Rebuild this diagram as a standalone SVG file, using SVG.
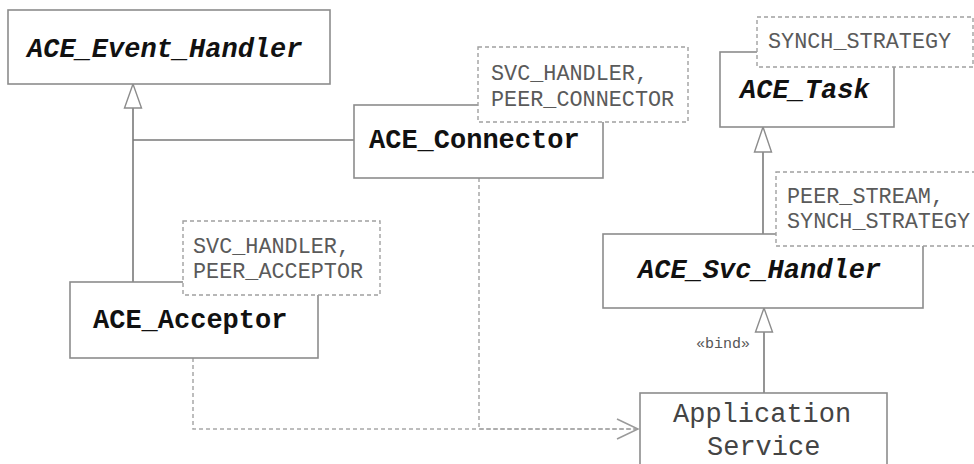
<svg xmlns="http://www.w3.org/2000/svg" width="974" height="464" viewBox="0 0 974 464">
  <style>
    .box { fill: #fff; stroke: #8c8c8c; stroke-width: 1.6; }
    .note { fill: #fff; stroke: #a0a0a0; stroke-width: 1.4; stroke-dasharray: 4 3; }
    .cls { font-family: "Liberation Mono", "Courier New", monospace; font-size: 27px; font-weight: bold; fill: #111; }
    .abs { font-style: italic; }
    .plain { font-family: "Liberation Mono", "Courier New", monospace; font-size: 27px; fill: #444; }
    .ntxt { font-family: "Liberation Mono", "Courier New", monospace; font-size: 21.8px; fill: #5a5a5a; }
    .lbl { font-family: "Liberation Mono", "Courier New", monospace; font-size: 15px; fill: #555; }
    .solid { fill: none; stroke: #7a7a7a; stroke-width: 1.6; }
    .dash { fill: none; stroke: #a8a8a8; stroke-width: 1.5; stroke-dasharray: 4 3; }
    .tri { fill: #fff; stroke: #8c8c8c; stroke-width: 1.4; }
  </style>
  <rect width="974" height="464" fill="#fff"/>

  <!-- connectors -->
  <g id="connectors">
    <!-- generalization: Acceptor / Connector -> Event_Handler -->
    <path class="solid" d="M133 108 V282 M133 140 H354"/>
    <polygon class="tri" points="133,84 124.5,108 141.5,108"/>
    <!-- generalization: Svc_Handler -> Task -->
    <path class="solid" d="M763 152 V234"/>
    <polygon class="tri" points="763,127 754.5,152 771.5,152"/>
    <!-- bind: Application Service -> Svc_Handler -->
    <path class="solid" d="M764 332 V393"/>
    <polygon class="tri" points="764,308 755.5,332 772.5,332"/>
    <text class="lbl" x="696" y="348">«bind»</text>
    <!-- dependencies to Application Service -->
    <path class="dash" d="M193 358 V429 H638"/>
    <path class="dash" d="M479 178 V429 H638"/>
    <path fill="none" stroke="#9a9a9a" stroke-width="1.5" d="M617 419 L638 429 L617 439"/>
  </g>

  <!-- ACE_Event_Handler -->
  <g id="ace-event-handler">
    <rect class="box" x="8" y="10" width="322" height="74"/>
    <text class="cls abs" x="27" y="57">ACE_Event_Handler</text>
  </g>

  <!-- ACE_Connector with template parameters -->
  <g id="ace-connector">
    <rect class="box" x="354" y="105" width="249" height="73"/>
    <text class="cls" x="369" y="148">ACE_Connector</text>
    <rect class="note" x="478" y="47" width="210" height="75"/>
    <text class="ntxt" x="491" y="80">SVC_HANDLER,</text>
    <text class="ntxt" x="491" y="106">PEER_CONNECTOR</text>
  </g>

  <!-- ACE_Task with template parameter -->
  <g id="ace-task">
    <rect class="box" x="720" y="52" width="174" height="75"/>
    <text class="cls abs" x="740" y="98">ACE_Task</text>
    <rect class="note" x="757" y="17" width="216" height="50"/>
    <text class="ntxt" x="768" y="48">SYNCH_STRATEGY</text>
  </g>

  <!-- ACE_Svc_Handler with template parameters -->
  <g id="ace-svc-handler">
    <rect class="box" x="603" y="234" width="320" height="74"/>
    <text class="cls abs" x="638" y="278">ACE_Svc_Handler</text>
    <rect class="note" x="776" y="172" width="210" height="74"/>
    <text class="ntxt" x="787" y="203">PEER_STREAM,</text>
    <text class="ntxt" x="787" y="228">SYNCH_STRATEGY</text>
  </g>

  <!-- ACE_Acceptor with template parameters -->
  <g id="ace-acceptor">
    <rect class="box" x="70" y="282" width="248" height="76"/>
    <text class="cls" x="93" y="328">ACE_Acceptor</text>
    <rect class="note" x="183" y="221" width="197" height="74"/>
    <text class="ntxt" x="193" y="253">SVC_HANDLER,</text>
    <text class="ntxt" x="193" y="278">PEER_ACCEPTOR</text>
  </g>

  <!-- Application Service -->
  <g id="application-service">
    <rect class="box" x="640" y="393" width="247" height="90"/>
    <text class="plain" x="673" y="422">Application</text>
    <text class="plain" x="707" y="455">Service</text>
  </g>
</svg>
